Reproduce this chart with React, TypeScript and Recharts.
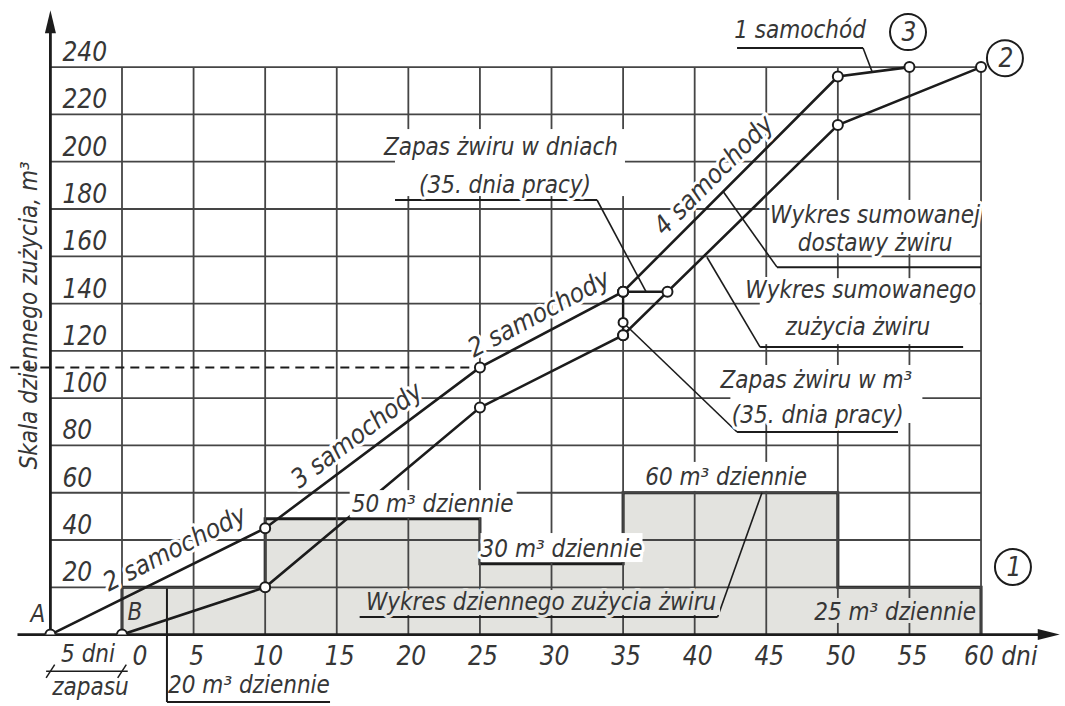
import React from 'react';
import { ComposedChart, XAxis, YAxis, Line, Area, ReferenceLine, ReferenceDot } from 'recharts';

// ---------- data ----------
const xTickDays = [0, 5, 10, 15, 20, 25, 30, 35, 40, 45, 50, 55, 60];
const yTickValues = [20, 40, 60, 80, 100, 120, 140, 160, 180, 200, 220, 240];

const deliveryDays = [-5, 10, 25, 35, 50, 55];
const deliveryCumulative = [0, 45, 113, 145, 236, 240];

const consumptionDays = [0, 10, 25, 35, 50, 60];
const consumptionCumulative = [0, 20, 96, 126.6, 215.5, 240];

const dailyFromDay = [0, 10, 25, 35, 50];
const dailyRate = [20, 49, 30, 60, 20];
const lastDay = 60;
const reserveStartDay = -5;

const stockDay = 35;
const stockDaysEnd = 38.1;
const stockLevel = 145;
const stockBottom = 126.6;
const stockMid = 132;
const reserveLevel = 113;

const deliveryData = deliveryDays.map((d, i) => ({ d, v: deliveryCumulative[i] }));
const consumptionData = consumptionDays.map((d, i) => ({ d, v: consumptionCumulative[i] }));
const dailyData = [
  { d: dailyFromDay[0], v: 0 },
  ...dailyFromDay.map((d, i) => ({ d, v: dailyRate[i] })),
  { d: lastDay, v: dailyRate[dailyRate.length - 1] },
  { d: lastDay, v: 0 },
];
const stockDaysData = [{ d: stockDay, v: stockLevel }, { d: stockDaysEnd, v: stockLevel }];
const stockM3Data = [{ d: stockDay, v: stockBottom }, { d: stockDay, v: stockLevel }];

// ---------- style ----------
const FONT = "'DejaVu Sans Condensed', 'DejaVu Sans', sans-serif";
const INK = '#1c1c1c';
const TEXT = '#363636';
const GRID = '#454545';
const BAR = '#e3e3df';

const T = ({ cx = 0, cy = 0, children, anchor = 'middle', size = 24, angle = 0, halo = '#ffffff', dx = 0, dy = 0, box, boxFill = '#ffffff' }: any) => {
  const x = cx + dx;
  const y = cy + dy;
  return (
    <g>
      {box ? <rect x={x + box[0]} y={y + box[1]} width={box[2]} height={box[3]} fill={boxFill} /> : null}
      <text
        x={x}
        y={y}
        textAnchor={anchor}
        fontFamily={FONT}
        fontStyle="italic"
        fontSize={size}
        fill={TEXT}
        stroke={halo || 'none'}
        strokeWidth={halo ? 6 : 0}
        strokeLinejoin="round"
        paintOrder="stroke"
        transform={angle ? `rotate(${angle} ${x} ${y})` : undefined}
      >
        {children}
      </text>
    </g>
  );
};

const txt = (key: string, x: number, y: number, content: string, opts: any = {}) => (
  <ReferenceDot
    key={key}
    x={x}
    y={y}
    r={0}
    ifOverflow="visible"
    shape={(p: any) => (
      <T cx={p.cx} cy={p.cy} {...opts}>
        {content}
      </T>
    )}
  />
);

const seg = (key: string, x1: number, y1: number, x2: number, y2: number, w = 1.6, extra: any = {}) => (
  <ReferenceLine
    key={key}
    segment={[{ x: x1, y: y1 }, { x: x2, y: y2 }]}
    stroke={INK}
    strokeWidth={w}
    ifOverflow="visible"
    {...extra}
  />
);

const circled = (key: string, x: number, y: number, label: string) => (
  <ReferenceDot
    key={key}
    x={x}
    y={y}
    r={19}
    ifOverflow="visible"
    shape={(p: any) => (
      <g>
        <circle cx={p.cx} cy={p.cy} r={18} fill="#fff" stroke={INK} strokeWidth={2} />
        <text x={p.cx + 1} y={p.cy + 9} textAnchor="middle" fontFamily={FONT} fontStyle="italic" fontSize={26} fill={TEXT}>
          {label}
        </text>
      </g>
    )}
  />
);

const dotStyle = { r: 5, fill: '#ffffff', stroke: INK, strokeWidth: 2 };

export default function App() {
  return (
    <div style={{ position: 'fixed', left: 0, top: 0, width: 1065, height: 706, background: '#ffffff' }}>
      <ComposedChart
        width={1065}
        height={706}
        data={dailyData}
        margin={{ top: 8, right: 3.8, left: 7.46, bottom: 71.4 }}
      >
        <XAxis dataKey="d" type="number" domain={[-8, 65.6]} allowDataOverflow hide />
        <YAxis type="number" domain={[0, 265]} allowDataOverflow hide />

        {/* daily consumption (step bars) */}
        <Area
          type="stepAfter"
          dataKey="v"
          fill="#a8a89c"
          fillOpacity={0.32}
          stroke={INK}
          strokeWidth={3}
          isAnimationActive={false}
          dot={false}
          activeDot={false}
        />

        {/* grid */}
        {yTickValues.map((v) => (
          <ReferenceLine
            key={'h' + v}
            segment={[{ x: reserveStartDay, y: v }, { x: lastDay, y: v }]}
            stroke={GRID}
            strokeWidth={1.8}
            ifOverflow="visible"
          />
        ))}
        {xTickDays.map((d) => (
          <ReferenceLine
            key={'v' + d}
            segment={[{ x: d, y: 0 }, { x: d, y: yTickValues[yTickValues.length - 1] }]}
            stroke={GRID}
            strokeWidth={1.8}
            ifOverflow="visible"
          />
        ))}

        {/* axes */}
        {seg('xaxis', -7.3, 0, 64.6, 0, 2.8)}
        {seg('yaxis', reserveStartDay, 0, reserveStartDay, 257, 2.8)}
        <ReferenceDot
          x={65.5}
          y={0}
          r={0}
          ifOverflow="visible"
          shape={(p: any) => (
            <polygon points={`${p.cx},${p.cy} ${p.cx - 22},${p.cy - 5.5} ${p.cx - 22},${p.cy + 5.5}`} fill={INK} />
          )}
        />
        <ReferenceDot
          x={reserveStartDay}
          y={264}
          r={0}
          ifOverflow="visible"
          shape={(p: any) => (
            <polygon points={`${p.cx},${p.cy} ${p.cx - 5.5},${p.cy + 23} ${p.cx + 5.5},${p.cy + 23}`} fill={INK} />
          )}
        />

        {/* dashed reserve level */}
        {seg('dash', -7.8, reserveLevel, 25, reserveLevel, 2, { strokeDasharray: '9 6' })}

        {/* leader lines and underlines */}
        {seg('u1', 42.96, 248.1, 51.76, 248.1, 2)}
        {seg('l1', 51.76, 248.1, 52.4, 237.9)}
        {seg('u2', 19.07, 183.8, 33.18, 183.8, 2)}
        {seg('l2', 33.18, 183.8, 36.6, 145)}
        {seg('u3', 45.75, 155.4, 60, 155.4, 2)}
        {seg('l3', 45.75, 155.4, 42, 187.3)}
        {seg('u4', 44.57, 121.6, 58.75, 121.6, 2)}
        {seg('l4', 44.57, 121.6, 40.86, 159.6)}
        {seg('u5', 42.96, 85.7, 54.2, 85.7, 2)}
        {seg('l5', 42.96, 85.7, stockDay, stockMid)}
        {seg('u6', 16.6, 7.44, 41.6, 7.44, 2)}
        {seg('l6', 41.6, 7.44, 44.7, 60)}
        {seg('u7', 3.14, -28.5, 14.53, -28.5, 2)}
        {seg('l7', 3.14, -28.5, 3.14, 19.5, 2)}
        {seg('dim', -5.3, -15.5, 0.4, -15.5, 1.5)}
        {seg('dimA', -5.3, -18.3, -4.7, -12.7, 1.5)}
        {seg('dimB', -0.3, -18.3, 0.3, -12.7, 1.5)}

        {/* tick labels */}
        {yTickValues.map((v) => txt('yt' + v, reserveStartDay, v, String(v), { anchor: 'start', dx: 12, dy: -6, size: 26 }))}
        {xTickDays
          .filter((d) => d > 0 && d < lastDay)
          .map((d) => txt('xt' + d, d, 0, String(d), { dx: 3, dy: 30, size: 26, halo: '' }))}
        {txt('xt0', 0, 0, '0', { dx: 18, dy: 30, size: 26, halo: '' })}
        {txt('xt60', lastDay, 0, '60 dni', { anchor: 'start', dx: -17, dy: 30, size: 26, halo: '' })}
        {txt('5dni', -2.37, -11.7, '5 dni', { size: 24, halo: '' })}
        {txt('zapasu', -2.2, -25.5, 'zapasu', { size: 24, halo: '' })}

        {/* axis title */}
        {txt('ytitle', -5.94, 135, 'Skala dziennego zużycia, m³', { angle: -90, size: 24, halo: '' })}

        {/* point names */}
        {txt('A', -5.87, 5.3, 'A', { size: 24, halo: '' })}
        {txt('B', 0.9, 6.2, 'B', { size: 24, halo: '' })}

        {/* truck labels */}
        {txt('s1', 3.95, 33.2, '2 samochody', { angle: -27, size: 26 })}
        {txt('s2', 16.75, 81.5, '3 samochody', { angle: -37, size: 26 })}
        {txt('s3', 29.4, 132.6, '2 samochody', { angle: -28, size: 26 })}
        {txt('s4', 41.75, 191.8, '4 samochody', { angle: -45, size: 26 })}
        {txt('s5', 47.36, 252.3, '1 samochód', { size: 24 })}

        {/* annotations */}
        {txt('a1', 26.47, 202.8, 'Zapas żwiru w dniach', { size: 24, box: [-106, -26, 230, 67] })}
        {txt('a2', 26.75, 186.7, '(35. dnia pracy)', { size: 24 })}
        {txt('a3', 52.6, 174.1, 'Wykres sumowanej', { size: 24, box: [-102, -23, 207, 40] })}
        {txt('a4', 52.6, 162.2, 'dostawy żwiru', { size: 24 })}
        {txt('a5', 51.6, 142.3, 'Wykres sumowanego', { size: 24, box: [-101, -20, 220, 66] })}
        {txt('a6', 51.4, 126.7, 'zużycia żwiru', { size: 24 })}
        {txt('a7', 48.5, 104.3, 'Zapas żwiru w m³', { size: 24, box: [-86, -23, 192, 58] })}
        {txt('a8', 48.6, 89.5, '(35. dnia pracy)', { size: 24 })}
        {txt('r60', 42.2, 63.3, '60 m³ dziennie', { size: 24, box: [-80, -23, 162, 29] })}
        {txt('r50', 21.7, 51.8, '50 m³ dziennie', { size: 24, box: [-83, -22, 167, 27] })}
        {txt('r30', 30.7, 32.8, '30 m³ dziennie', { size: 24, box: [-81, -24, 162, 29] })}
        {txt('r25', 54.0, 6.2, '25 m³ dziennie', { size: 24, halo: BAR, box: [-80, -22, 160, 25], boxFill: BAR })}
        {txt('rw', 29.27, 10.4, 'Wykres dziennego zużycia żwiru', { size: 24, halo: BAR, box: [-183, -20, 362, 25], boxFill: BAR })}
        {txt('r20', 8.87, -24.7, '20 m³ dziennie', { size: 24, halo: '' })}

        {/* cumulative lines */}
        <Line
          data={consumptionData}
          dataKey="v"
          type="linear"
          stroke={INK}
          strokeWidth={2.6}
          dot={dotStyle}
          activeDot={false}
          isAnimationActive={false}
        />
        <Line
          data={deliveryData}
          dataKey="v"
          type="linear"
          stroke={INK}
          strokeWidth={2.6}
          dot={dotStyle}
          activeDot={false}
          isAnimationActive={false}
        />
        <Line
          data={stockM3Data}
          dataKey="v"
          type="linear"
          stroke={INK}
          strokeWidth={2.4}
          dot={dotStyle}
          activeDot={false}
          isAnimationActive={false}
        />
        <Line
          data={stockDaysData}
          dataKey="v"
          type="linear"
          stroke={INK}
          strokeWidth={2.4}
          dot={dotStyle}
          activeDot={false}
          isAnimationActive={false}
        />
        <ReferenceDot x={stockDay} y={stockMid} r={4.5} fill="#fff" stroke={INK} strokeWidth={2} ifOverflow="visible" />

        {/* circled numbers */}
        {circled('c3', 54.9, 254.8, '3')}
        {circled('c2', 61.67, 243.8, '2')}
        {circled('c1', 62.23, 28.6, '1')}
      </ComposedChart>
    </div>
  );
}
